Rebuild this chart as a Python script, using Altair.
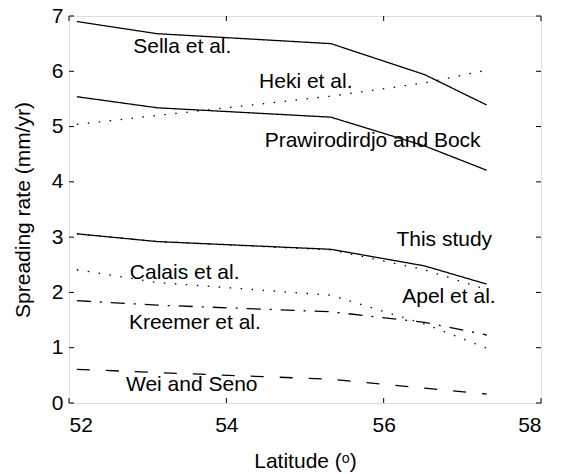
import altair as alt
import pandas as pd

# ---- data ----
lat = [52.1, 53.12, 55.33, 56.52, 57.31]
sella = [6.90, 6.68, 6.50, 5.94, 5.39]
heki = [5.04, 5.20, 5.55, 5.79, 6.02]
prawirodirdjo = [5.54, 5.34, 5.17, 4.65, 4.21]
this_study = [3.06, 2.92, 2.78, 2.48, 2.15]
apel = [3.06, 2.92, 2.77, 2.41, 2.05]
calais = [2.41, 2.18, 1.95, 1.43, 0.99]
kreemer = [1.85, 1.77, 1.65, 1.46, 1.23]
wei_seno = [0.61, 0.55, 0.43, 0.27, 0.16]

label_text = ["Sella et al.", "Heki et al.", "Prawirodirdjo and Bock", "This study",
              "Apel et al.", "Calais et al.", "Kreemer et al.", "Wei and Seno"]
label_lat = [53.44, 55.01, 55.86, 56.77, 56.83, 53.47, 53.60, 53.56]
label_rate = [6.44, 5.81, 4.73, 2.95, 1.92, 2.36, 1.44, 0.33]

x_ticks = [52, 54, 56, 58]
y_ticks = [0, 1, 2, 3, 4, 5, 6, 7]

series = {
    "Sella": (sella, [1, 0]),
    "Heki": (heki, [1.5, 9.5]),
    "Prawirodirdjo": (prawirodirdjo, [1, 0]),
    "This study": (this_study, [1, 0]),
    "Apel": (apel, [1.5, 9.5]),
    "Calais": (calais, [1.5, 9.5]),
    "Kreemer": (kreemer, [14, 9, 2, 9]),
    "Wei": (wei_seno, [13, 16]),
}

rows = []
for name, (vals, _) in series.items():
    for la, v in zip(lat, vals):
        rows.append({"series": name, "lat": la, "rate": v})
df = pd.DataFrame(rows)

W, H = 472, 387
FONT = "Liberation Sans"

xscale = alt.Scale(domain=[52, 58], nice=False, zero=False)
yscale = alt.Scale(domain=[0, 7], nice=False, zero=False)

lines = alt.Chart(df).mark_line(color="black", strokeWidth=1.3).encode(
    x=alt.X("lat:Q", scale=xscale,
            axis=alt.Axis(title="Latitude (ᵒ)", values=x_ticks, format="d", ticks=False,
                          domain=False, grid=False, labelFontSize=21, labelFont=FONT,
                          labelColor="black", labelPadding=11, titleFontSize=21,
                          titleFont=FONT, titleFontWeight="normal", titleColor="black",
                          titlePadding=15)),
    y=alt.Y("rate:Q", scale=yscale,
            axis=alt.Axis(title="Spreading rate (mm/yr)", values=y_ticks, format="d",
                          ticks=False, domain=False, grid=False, labelFontSize=21,
                          labelFont=FONT, labelColor="black", labelPadding=6,
                          titleFontSize=21, titleFont=FONT, titleFontWeight="normal",
                          titleColor="black", titlePadding=18)),
    detail="series:N",
    strokeDash=alt.StrokeDash("series:N",
                              scale=alt.Scale(domain=list(series.keys()),
                                              range=[d for _, d in series.values()]),
                              legend=None),
)

labels_df = pd.DataFrame({"text": label_text, "lat": label_lat, "rate": label_rate})
labels = alt.Chart(labels_df).mark_text(fontSize=21, font=FONT, color="black",
                                        baseline="middle", align="center").encode(
    x=alt.X("lat:Q", scale=xscale), y=alt.Y("rate:Q", scale=yscale), text="text:N")

xt = alt.Chart(pd.DataFrame({"v": x_ticks}))
yt = alt.Chart(pd.DataFrame({"v": y_ticks}))
tick_style = dict(color="black", strokeWidth=1)
ticks_bottom = xt.mark_rule(**tick_style).encode(
    x=alt.X("v:Q", scale=xscale), y=alt.value(H), y2=alt.value(H - 5))
ticks_top = xt.mark_rule(**tick_style).encode(
    x=alt.X("v:Q", scale=xscale), y=alt.value(0), y2=alt.value(5))
ticks_left = yt.mark_rule(**tick_style).encode(
    y=alt.Y("v:Q", scale=yscale), x=alt.value(0), x2=alt.value(5))
ticks_right = yt.mark_rule(**tick_style).encode(
    y=alt.Y("v:Q", scale=yscale), x=alt.value(W), x2=alt.value(W - 5))

chart = alt.layer(lines, labels, ticks_bottom, ticks_top, ticks_left, ticks_right).properties(
    width=W, height=H,
    autosize=alt.AutoSizeParams(type="none"),
    padding={"left": 69, "top": 16, "right": 23, "bottom": 71},
).configure_view(stroke="black", strokeWidth=1).configure(background="white")

chart.save("out.html", embed_options={"renderer": "svg", "actions": False})
